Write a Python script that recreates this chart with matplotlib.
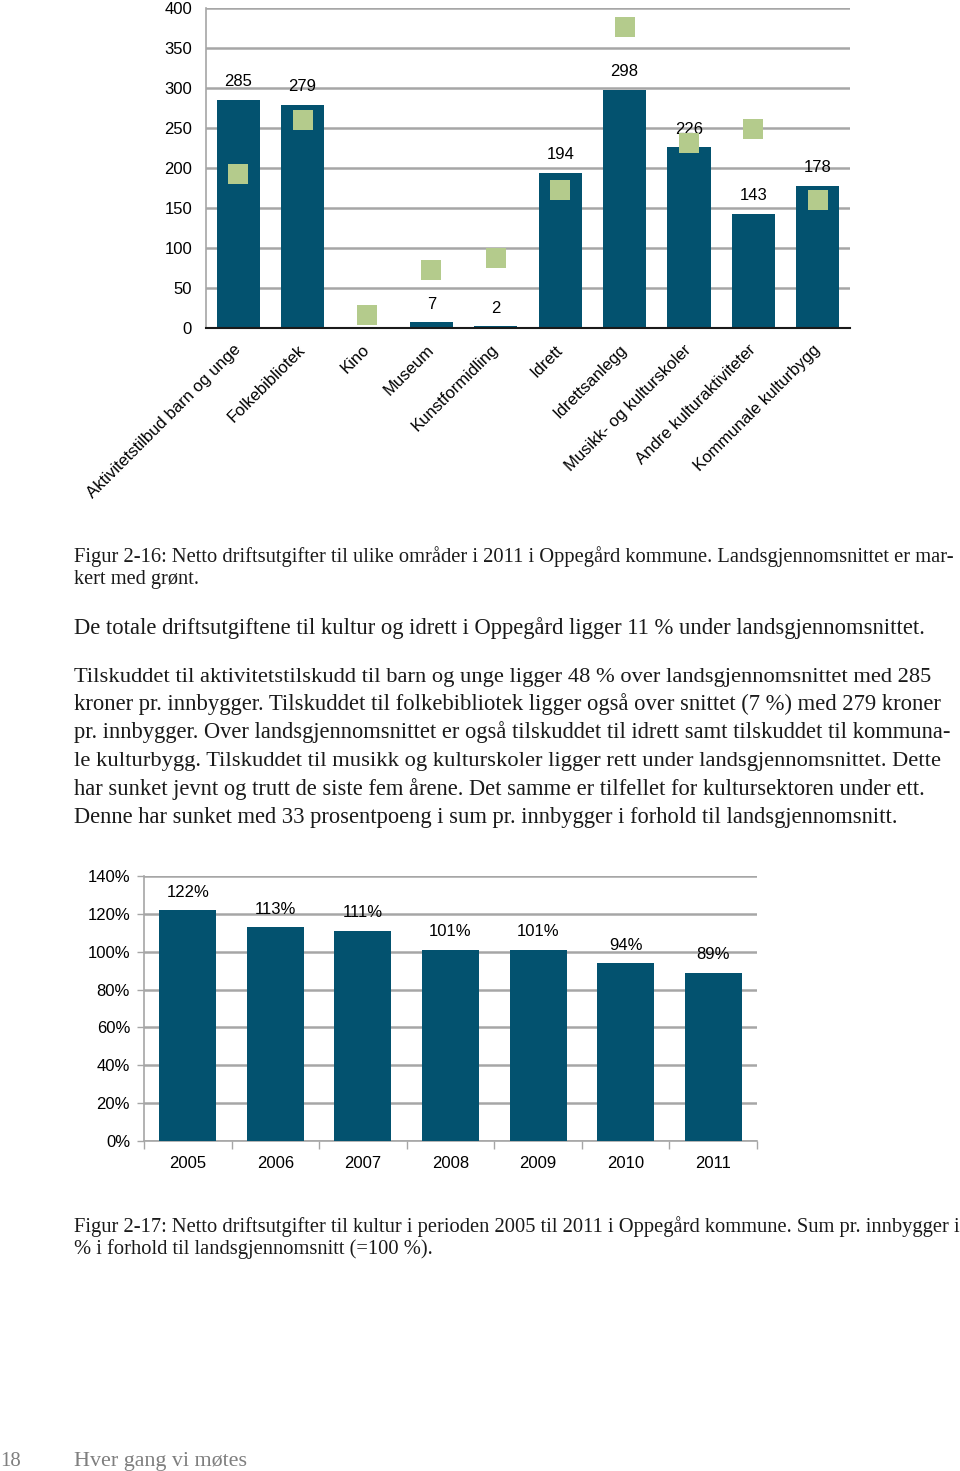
import matplotlib
matplotlib.use("Agg")
import matplotlib.pyplot as plt
import numpy as np

# ---------------- data ----------------
categories = ["Aktivitetstilbud barn og unge", "Folkebibliotek", "Kino", "Museum",
              "Kunstformidling", "Idrett", "Idrettsanlegg", "Musikk- og kulturskoler",
              "Andre kulturaktiviteter", "Kommunale kulturbygg"]
oppegard_values = [285, 279, 0, 7, 2, 194, 298, 226, 143, 178]
oppegard_labels = ["285", "279", "", "7", "2", "194", "298", "226", "143", "178"]
national_avg = [193, 260, 16, 72, 87, 172, 376, 231, 249, 160]
y1_ticks = [0, 50, 100, 150, 200, 250, 300, 350, 400]

years = ["2005", "2006", "2007", "2008", "2009", "2010", "2011"]
pct_values = [122, 113, 111, 101, 101, 94, 89]
y2_ticks = [0, 20, 40, 60, 80, 100, 120, 140]

caption1 = ["Figur 2-16: Netto driftsutgifter til ulike områder i 2011 i Oppegård kommune. Landsgjennomsnittet er mar-",
            "kert med grønt."]
body1 = ["De totale driftsutgiftene til kultur og idrett i Oppegård ligger 11 % under landsgjennomsnittet."]
body2 = ["Tilskuddet til aktivitetstilskudd til barn og unge ligger 48 % over landsgjennomsnittet med 285",
         "kroner pr. innbygger. Tilskuddet til folkebibliotek ligger også over snittet (7 %) med 279 kroner",
         "pr. innbygger. Over landsgjennomsnittet er også tilskuddet til idrett samt tilskuddet til kommuna-",
         "le kulturbygg. Tilskuddet til musikk og kulturskoler ligger rett under landsgjennomsnittet. Dette",
         "har sunket jevnt og trutt de siste fem årene. Det samme er tilfellet for kultursektoren under ett.",
         "Denne har sunket med 33 prosentpoeng i sum pr. innbygger i forhold til landsgjennomsnitt."]
caption2 = ["Figur 2-17: Netto driftsutgifter til kultur i perioden 2005 til 2011 i Oppegård kommune. Sum pr. innbygger i",
            "% i forhold til landsgjennomsnitt (=100 %)."]
footer_num = "18"
footer_txt = "Hver gang vi møtes"

# ---------------- style ----------------
W, H = 960, 1471
BAR = "#03526F"
GREEN = "#B4CB8C"
GRID = "#A6A6A6"
SANS = ["Liberation Sans", "DejaVu Sans"]
SERIF = ["Liberation Serif", "DejaVu Serif"]

fig = plt.figure(figsize=(W / 100, H / 100), dpi=100)
fig.patch.set_facecolor("white")

def fx(px):
    return px / W

def fy(py):
    return 1 - py / H

# ---------------- chart 1 ----------------
ax1 = fig.add_axes([fx(206), fy(328), fx(850) - fx(206), fy(8) - fy(328)])
x1 = np.arange(len(categories))
ax1.bar(x1, oppegard_values, width=0.67, color=BAR, zorder=3)
ax1.scatter(x1, national_avg, marker="s", s=210, color=GREEN, zorder=4, linewidths=0)
for xi, v, lab in zip(x1, oppegard_values, oppegard_labels):
    if lab:
        ax1.annotate(lab, (xi, v), xytext=(0, 18), textcoords="offset pixels",
                     ha="center", va="center", fontsize=12, family=SANS, color="black")
ax1.set_xlim(-0.5, len(categories) - 0.5)
ax1.set_ylim(0, 400)
ax1.set_yticks(y1_ticks)
ax1.set_yticklabels([str(t) for t in y1_ticks], family=SANS, fontsize=12)
ax1.yaxis.grid(True, color=GRID, linewidth=1.8, zorder=0)
ax1.set_axisbelow(True)
ax1.tick_params(axis="y", length=0, pad=10)
ax1.set_xticks(x1)
ax1.set_xticklabels(categories, rotation=45, ha="right", va="center",
                    rotation_mode="anchor", family=SANS, fontsize=12)
ax1.tick_params(axis="x", length=0, pad=14)
for s in ["top", "right"]:
    ax1.spines[s].set_visible(False)
ax1.spines["left"].set_color(GRID)
ax1.spines["left"].set_linewidth(1.2)
ax1.spines["bottom"].set_color("#1a1a1a")
ax1.spines["bottom"].set_linewidth(1.5)
ax1.spines["bottom"].set_zorder(5)

# ---------------- chart 2 ----------------
ax2 = fig.add_axes([fx(144), fy(1141), fx(757) - fx(144), fy(876) - fy(1141)])
x2 = np.arange(len(years))
ax2.bar(x2, pct_values, width=0.65, color=BAR, zorder=3)
for xi, v in zip(x2, pct_values):
    ax2.annotate(f"{v}%", (xi, v), xytext=(0, 18), textcoords="offset pixels",
                 ha="center", va="center", fontsize=12, family=SANS, color="black")
ax2.set_xlim(-0.5, len(years) - 0.5)
ax2.set_ylim(0, 140)
ax2.set_yticks(y2_ticks)
ax2.set_yticklabels([f"{t}%" for t in y2_ticks], family=SANS, fontsize=12)
ax2.yaxis.grid(True, color=GRID, linewidth=1.8, zorder=0)
ax2.set_axisbelow(True)
ax2.tick_params(axis="y", length=5, width=1, color=GRID, pad=5)
ax2.set_xticks(x2)
ax2.set_xticklabels(years, family=SANS, fontsize=12)
ax2.set_xticks(np.arange(-0.5, len(years)), minor=True)
ax2.tick_params(axis="x", which="major", length=0, pad=11)
ax2.tick_params(axis="x", which="minor", length=6, width=1, color=GRID, direction="out")
for s in ["top", "right"]:
    ax2.spines[s].set_visible(False)
for s in ["left", "bottom"]:
    ax2.spines[s].set_color(GRID)
    ax2.spines[s].set_linewidth(1.2)

# ---------------- page text ----------------
texts = []
def line(txt, x, ybase, size, right=None, color="#1a1a1a"):
    t = fig.text(fx(x), fy(ybase), txt, ha="left", va="baseline",
                 fontsize=size, family=SERIF, color=color)
    texts.append((t, x, right))
    return t

line(caption1[0], 74, 562, 13, right=952)
line(caption1[1], 74, 584, 13, right=199)
line(body1[0], 74, 634, 14, right=927)
body_ys = [682, 710, 738, 766, 795, 823]
body_rights = [932, 942, 955, 940, 926, 901]
for txt, yb, r in zip(body2, body_ys, body_rights):
    line(txt, 74, yb, 14, right=r)
line(caption2[0], 74, 1232, 13, right=960)
line(caption2[1], 74, 1254, 13, right=432)
line(footer_num, 0, 1466, 14, right=21, color="#7f7f7f")
line(footer_txt, 74, 1466, 14, right=248, color="#7f7f7f")

fig.canvas.draw()
renderer = fig.canvas.get_renderer()
for t, x, right in texts:
    if right is None:
        continue
    bb = t.get_window_extent(renderer)
    target = right - x
    if bb.width > 0:
        t.set_fontsize(t.get_fontsize() * target / bb.width)

fig.savefig("out.png", dpi=100, facecolor="white")
